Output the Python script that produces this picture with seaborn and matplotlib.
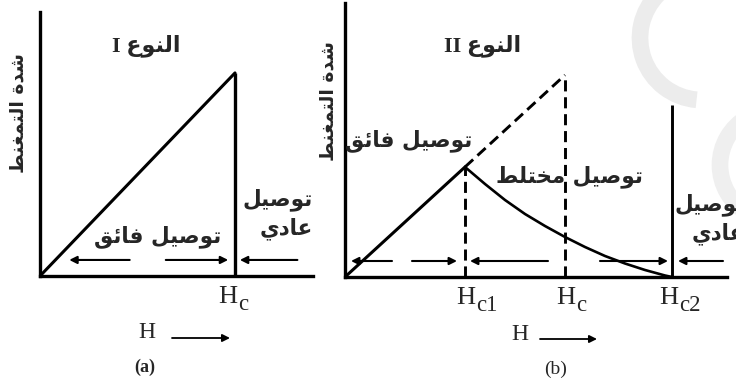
import matplotlib
matplotlib.use("Agg")
import matplotlib.pyplot as plt
import seaborn as sns
from matplotlib.patches import Arc, FancyArrowPatch

# ---------------- data ----------------
# Type I superconductor: magnetisation rises linearly up to Hc, then drops to zero
type1_H = [0.0, 1.0]
type1_M = [0.0, 1.0]
type1_Hc = 1.0

# Type II superconductor
type2_Hc1 = 1.20
type2_Hc = 2.20
type2_Hc2 = 3.27
meissner_H = [0.0, 1.20]
meissner_M = [0.0, 1.10]
ideal_H = [1.20, 2.20]
ideal_M = [1.10, 2.02]
mixed_H = [1.20, 1.40, 1.60, 1.80, 2.00, 2.20, 2.40, 2.60, 2.80, 3.00, 3.20, 3.27]
mixed_M = [1.10, 0.93, 0.77, 0.63, 0.51, 0.40, 0.30, 0.21, 0.135, 0.07, 0.015, 0.00]
normal_line_top = 1.72

# labels
ylabel_txt = "شدة التمغنط"
kind_txt = "النوع"
super_txt = "توصيل فائق"
mixed_txt = "توصيل مختلط"
cond_txt = "توصيل"
normal_txt = "عادي"

# ---------------- minimal Arabic shaping (presentation forms) ----------------
FORMS = {  # isolated, final, initial, medial
    "ا": (0xFE8D, 0xFE8E, None, None),
    "د": (0xFEA9, 0xFEAA, None, None),
    "ة": (0xFE93, 0xFE94, None, None),
    "و": (0xFEED, 0xFEEE, None, None),
    "ئ": (0xFE89, 0xFE8A, 0xFE8B, 0xFE8C),
    "ت": (0xFE95, 0xFE96, 0xFE97, 0xFE98),
    "خ": (0xFEA5, 0xFEA6, 0xFEA7, 0xFEA8),
    "ش": (0xFEB5, 0xFEB6, 0xFEB7, 0xFEB8),
    "ص": (0xFEB9, 0xFEBA, 0xFEBB, 0xFEBC),
    "ط": (0xFEC1, 0xFEC2, 0xFEC3, 0xFEC4),
    "ع": (0xFEC9, 0xFECA, 0xFECB, 0xFECC),
    "غ": (0xFECD, 0xFECE, 0xFECF, 0xFED0),
    "ف": (0xFED1, 0xFED2, 0xFED3, 0xFED4),
    "ق": (0xFED5, 0xFED6, 0xFED7, 0xFED8),
    "ل": (0xFEDD, 0xFEDE, 0xFEDF, 0xFEE0),
    "م": (0xFEE1, 0xFEE2, 0xFEE3, 0xFEE4),
    "ن": (0xFEE5, 0xFEE6, 0xFEE7, 0xFEE8),
    "ي": (0xFEF1, 0xFEF2, 0xFEF3, 0xFEF4),
}


def dual(ch):
    return ch in FORMS and FORMS[ch][2] is not None


def ar(text):
    """Return Arabic text in joined presentation forms, in visual (LTR) order."""
    out = []
    for i, ch in enumerate(text):
        if ch not in FORMS:
            out.append(ch)
            continue
        prev = text[i - 1] if i > 0 else ""
        nxt = text[i + 1] if i + 1 < len(text) else ""
        jp = dual(prev)
        jn = dual(ch) and nxt in FORMS
        idx = {(False, False): 0, (True, False): 1, (False, True): 2, (True, True): 3}[(jp, jn)]
        out.append(chr(FORMS[ch][idx]))
    return "".join(out)[::-1]


# ---------------- figure ----------------
sns.set_theme(style="white")
plt.rcParams["font.family"] = ["DejaVu Sans"]

W, H = 736, 383
fig = plt.figure(figsize=(W / 100, H / 100), dpi=100)
fig.patch.set_facecolor("white")

# faint background watermark
bg = fig.add_axes([0, 0, 1, 1], zorder=-5)
bg.set_xlim(0, W)
bg.set_ylim(H, 0)
bg.axis("off")
bg.add_patch(Arc((702, 38), 124, 124, theta1=95, theta2=225, color="#ececec", lw=12))
bg.add_patch(Arc((775, 165), 110, 110, theta1=120, theta2=240, color="#efefef", lw=12))

ax1 = fig.add_axes([40 / W, (H - 276) / H, 273 / W, 264 / H])
ax2 = fig.add_axes([345 / W, (H - 277) / H, 382 / W, 274 / H])

for ax in (ax1, ax2):
    ax.set_facecolor("none")
    sns.despine(ax=ax)
    for s in ("left", "bottom"):
        ax.spines[s].set_linewidth(2.4)
        ax.spines[s].set_color("black")
    ax.set_xticks([])
    ax.set_yticks([])

ax1.set_xlim(0, 1.40)
ax1.set_ylim(0, 1.30)
ax2.set_xlim(0, 3.82)
ax2.set_ylim(0, 2.74)

dash = (0, (3.8, 2.0))

# ---- panel (a) ----
sns.lineplot(x=type1_H, y=type1_M, ax=ax1, color="black", lw=2.2,
             estimator=None, sort=False, legend=False)
ax1.vlines(type1_Hc, 0, type1_M[-1], color="black", lw=2.4)

# ---- panel (b) ----
sns.lineplot(x=meissner_H, y=meissner_M, ax=ax2, color="black", lw=2.2,
             estimator=None, sort=False, legend=False)
sns.lineplot(x=ideal_H, y=ideal_M, ax=ax2, color="black", lw=2.1,
             linestyle=dash, estimator=None, sort=False, legend=False)
sns.lineplot(x=mixed_H, y=mixed_M, ax=ax2, color="black", lw=1.9,
             estimator=None, sort=False, legend=False)
ax2.vlines(type2_Hc1, 0, meissner_M[-1], color="black", lw=2.1, linestyle=dash)
ax2.vlines(type2_Hc, 0, ideal_M[-1], color="black", lw=2.1, linestyle=dash)
ax2.vlines(type2_Hc2, 0, normal_line_top, color="black", lw=2.1)


def arrow(ax, x0, x1, y):
    ax.annotate("", xy=(x1, y), xytext=(x0, y),
                arrowprops=dict(arrowstyle="-|>", color="black", lw=1.5,
                                mutation_scale=11, shrinkA=0, shrinkB=0))


ya = 0.079
arrow(ax1, 0.46, 0.15, ya)
arrow(ax1, 0.645, 0.965, ya)
arrow(ax1, 1.32, 1.025, ya)

yb = 0.16
arrow(ax2, 0.47, 0.06, yb)
arrow(ax2, 0.67, 1.12, yb)
arrow(ax2, 2.03, 1.25, yb)
arrow(ax2, 2.55, 3.23, yb)
arrow(ax2, 3.78, 3.33, yb)


def ftext(x, y, s, **kw):
    return fig.text(x / W, 1 - y / H, s, **kw)


AR = ["DejaVu Sans"]
SERIF = ["Liberation Serif", "DejaVu Sans"]
arkw = dict(family=AR, fontsize=15.5, fontweight="bold")
ylkw = dict(family=AR, fontsize=13.5, fontweight="bold")

# titles
ftext(146, 46, "I " + ar(kind_txt), family=SERIF, fontsize=16, fontweight="bold",
      ha="center", va="center")
ftext(483, 46, "II " + ar(kind_txt), family=SERIF, fontsize=16, fontweight="bold",
      ha="center", va="center")

# y labels
ftext(18, 113, ar(ylabel_txt), rotation=90, ha="center", va="center", **ylkw)
ftext(328, 101, ar(ylabel_txt), rotation=90, ha="center", va="center", **ylkw)

# region labels
ftext(158, 237, ar(super_txt), ha="center", va="center", **arkw)
ftext(313, 200, ar(cond_txt), ha="right", va="center", **arkw)
ftext(313, 229, ar(normal_txt), ha="right", va="center", **arkw)

ftext(409, 141, ar(super_txt), ha="center", va="center", **arkw)
ftext(570, 177, ar(mixed_txt), ha="center", va="center", **arkw)
ftext(745, 205, ar(cond_txt), ha="right", va="center", **arkw)
ftext(745, 234, ar(normal_txt), ha="right", va="center", **arkw)


# critical-field labels under the axis
def critical_label(ax, x, sub, dx_px):
    ax.annotate("H", xy=(x, 0), xycoords=("data", "axes fraction"),
                xytext=(dx_px * 0.72, -10 * 0.72), textcoords="offset points",
                family=SERIF, fontsize=19, ha="center", va="top")
    ax.annotate(sub, xy=(x, 0), xycoords=("data", "axes fraction"),
                xytext=((dx_px + 10) * 0.72, -18 * 0.72), textcoords="offset points",
                family=SERIF, fontsize=16.5, ha="left", va="top")


critical_label(ax1, type1_Hc, "c", -7)
critical_label(ax2, type2_Hc1, "c1", 1)
critical_label(ax2, type2_Hc, "c", 1)
critical_label(ax2, type2_Hc2, "c2", -3)

# field direction labels
for hx, x0, x1, yy in ((147, 172, 230, 333), (520, 540, 597, 334)):
    ftext(hx, yy, "H", family=SERIF, fontsize=17, ha="center", va="center")
    fig.add_artist(FancyArrowPatch(
        (x0 / W, 1 - (yy + 5) / H), (x1 / W, 1 - (yy + 5) / H),
        transform=fig.transFigure, arrowstyle="-|>", mutation_scale=11,
        color="black", lw=1.3, shrinkA=0, shrinkB=0))

ftext(145, 367, "(a)", family=SERIF, fontsize=13, fontweight="bold", ha="center", va="center")
ftext(556, 369, "(b)", family=SERIF, fontsize=14, ha="center", va="center")

fig.savefig("out.png", dpi=100)
